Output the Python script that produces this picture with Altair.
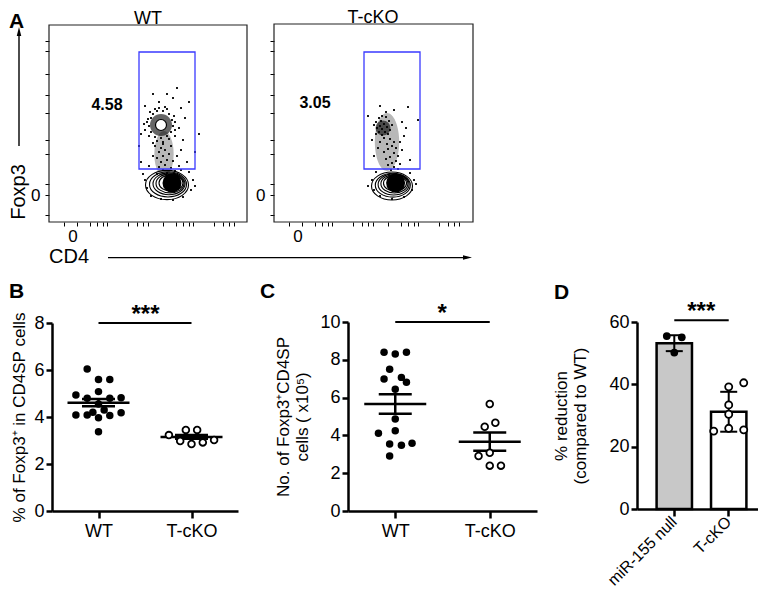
import math
import altair as alt
import pandas as pd

FONT = "Liberation Sans"
W, H = 750, 582          # chart area = window minus the 8 px page margin


def pg(v):
    """page pixel -> chart pixel (the page has an 8 px margin)"""
    return v - 8


# ============================ DATA ============================
# ---- Panel A : flow cytometry plots (display units of the biexponential axes)
A_TITLES = ["WT", "T-cKO"]
A_PCT = ["4.58", "3.05"]
A_PCT_X = [29.0, 20.5]
A_PCT_Y = [58.5, 59.5]
A_TITLE_X = [49.5, 49.5]
A_TITLE_Y = [101.5, 102.0]
GATE_X = [45.0, 73.0]
GATE_Y = [26.5, 85.0]
ZERO_X, ZERO_Y = 12.0, 13.5
ZERO_LABEL_Y = -7.5
DEC_X = [29.0, 50.5, 72.0, 93.5]
DEC_Y = [20.0, 43.5, 67.0, 90.5]

WT_DOTS = [
    (50, 48), (51, 52), (52, 54), (54, 55.5), (57, 55.5), (60, 54), (61.5, 51), (62, 48), (61, 45), (59, 43),
    (56, 42), (53, 42.5), (51, 45), (49, 50), (50.5, 55), (55, 57), (59, 56.5), (62.5, 53), (63, 46), (60, 41.5),
    (54, 40.5), (50, 43), (48, 46), (49.5, 51.5), (53, 56.5), (58, 57.5), (63, 50), (57, 40), (52, 39.5), (47.5, 49),
    (53, 38), (56, 37), (58, 36), (55, 35), (60, 34), (57, 33), (54, 32), (59, 31), (62, 30.5), (56, 30),
    (58, 28.5), (55, 27.5), (61, 27), (57, 26), (63, 25.5), (59, 24.5), (54, 24), (60, 23.5), (65, 28), (52, 33),
    (64, 33), (57, 39), (61, 38), (66, 36), (67, 41), (63, 43), (65, 47), (68, 52), (46, 44), (45, 38),
    (70, 60), (62, 62), (55, 60), (48, 58), (66, 57), (59, 64), (73, 35), (69, 30), (50, 28), (46, 30),
    (75, 44), (64, 67), (52, 64),
    (48, 21), (49, 17), (51, 13), (56, 11.5), (62, 11), (67, 12.5), (71, 16), (72, 21), (70, 25), (47, 24),
    (73, 18), (66, 26),
]
KO_DOTS = [
    (51, 50), (52.5, 52), (54, 53), (56, 52.5), (57.5, 50.5), (55, 49), (53, 48), (51.5, 47), (54, 46.5), (56.5, 47.5),
    (58, 46), (55.5, 45), (52.5, 45), (50, 48.5), (57, 44), (54, 43.5), (51, 44), (59, 48.5), (53.5, 50.5), (56, 55),
    (55, 42), (58, 41.5), (60, 40), (56.5, 39), (53, 40), (59, 38), (61, 37), (57, 36.5), (55, 35), (60, 34.5),
    (62, 33), (58, 32.5), (56, 31.5), (61, 30.5), (59, 29.5), (63, 29), (57, 28.5), (60, 27.5), (62, 26.5), (58.5, 26),
    (64, 36), (52, 37), (63, 40), (65, 43), (49, 41),
    (67, 57.5), (72, 51), (47, 53), (64, 50), (68, 31), (66, 47), (50, 33), (53, 58), (60, 56),
    (49, 21), (50, 16), (53, 13), (59, 11.5), (65, 12.5), (69, 16), (70, 21), (68, 24.5), (51, 25), (71, 19), (47, 18),
]
WT_RING_X = [59.0, 59.5, 60.0, 60.5, 61.0]
WT_RING_Y = [18.5, 18.8, 19.1, 19.3, 19.5]
KO_RING_X = [59.0, 59.4, 59.8, 60.2, 60.5]
KO_RING_Y = [18.0, 18.4, 18.8, 19.1, 19.4]
WT_CORE = (61.5, 19.5)
KO_CORE = (60.8, 19.5)
WT_HOLE = (56.0, 48.5)
WT_DENSE_RING = [(56.0, 48.5)]
WT_DENSE_COL = [(57.5, 34.0)]
KO_DENSE_TOP = [(54.5, 47.0)]
KO_DENSE_COL = [(56.5, 40.0)]

# ---- Panel B : % Foxp3+ in CD4SP
B_GROUPS = ["WT", "T-cKO"]
B_WT = [6.04, 5.60, 5.60, 4.94, 5.08, 4.80, 4.80, 4.82, 4.55, 4.09, 4.09, 4.20, 4.30, 3.97, 4.06, 4.18, 3.37]
B_WT_COL = [-1, 0, 1, -2, 0, -1, 1, 2, 0, -2, -1, -0.5, 0.5, 0, 1, 2, 0]
B_KO = [3.23, 3.45, 3.45, 2.98, 2.85, 2.92, 3.02]
B_KO_COL = [-2, -0.5, 0.5, -1, 0, 1, 2]
B_MEAN = [4.61, 3.15]
B_SEM = [0.155, 0.08]

# ---- Panel C : number of Foxp3+CD4SP cells (x10^5)
C_GROUPS = ["WT", "T-cKO"]
C_WT = [8.40, 8.31, 8.40, 7.50, 6.98, 7.07, 6.81, 6.44, 4.87, 4.11, 4.25, 3.54, 3.48, 3.58, 2.91]
C_WT_COL = [-1, 0, 1, -0.5, -1, 0.55, 1, 0, 0, -1.5, 0, -0.5, 0.55, 1.5, -0.5]
C_KO = [5.66, 4.46, 4.67, 2.91, 3.08, 2.40, 2.40]
C_KO_COL = [0, -0.45, 0.5, -1, 0, 0, 1]
C_MEAN = [5.66, 3.67]
C_SEM = [0.52, 0.48]

# ---- Panel D : % reduction compared to WT
D_GROUPS = ["miR-155 null", "T-cKO"]
D_NULL = [55.5, 55.1, 50.2]
D_NULL_COL = [-0.5, 0.5, 0]
D_KO = [39.2, 40.5, 33.4, 30.4, 25.0, 25.9, 25.4]
D_KO_COL = [0, 1, 0, 0, -1, 0, 1]
D_MEAN = [53.2, 31.2]
D_SD = [2.55, 6.4]

# ============================ STYLE ============================
ELL = "M-1,0A1,0.68,0,1,1,1,0A1,0.68,0,1,1,-1,0Z"
VELL = "M0,-1A0.42,1,0,1,1,0,1A0.42,1,0,1,1,0,-1Z"
UP = "M0,-1L0.45,0.8L-0.45,0.8Z"
RIGHT = "M1,0L-0.8,0.45L-0.8,-0.45Z"
WT_RING_W = [43, 37, 32, 28, 24]
KO_RING_W = [41, 35, 31, 27, 23]


def bi_ticks(decades, zero, hi):
    span = decades[1] - decades[0]
    vals = {round(zero, 2)}
    for d in [decades[0] - span] + decades:
        for k in range(1, 10):
            v = round(d + span * math.log10(k), 2)
            if 1.0 < v < hi:
                vals.add(v)
    return sorted(vals)


TICKS_X = bi_ticks(DEC_X, ZERO_X, 98.5)
TICKS_Y = bi_ticks(DEC_Y, ZERO_Y, 98.0)


def pts_df(pts):
    return pd.DataFrame({"x": [p[0] for p in pts], "y": [p[1] for p in pts]})


def flow_panel(i, dots, ring_x, ring_y, ring_w, core, hole, dense_circle, dense_circle_w,
               dense_col, dense_col_h, xdom, ydom, xr, yr, arrows):
    xs = alt.Scale(domain=xdom, range=xr, nice=False, zero=False)
    ys = alt.Scale(domain=ydom, range=yr, nice=False, zero=False)
    axx = alt.Axis(orient="bottom", offset=yr[0] - H, values=TICKS_X, labels=False,
                   tickSize=4, tickWidth=1, tickColor="black", domain=False, grid=False,
                   title=None)
    axy = alt.Axis(orient="left", offset=-xr[0], values=TICKS_Y,
                   labelExpr=f"abs(datum.value - {ZERO_Y}) < 0.01 ? '0' : ''",
                   tickSize=4, tickWidth=1, tickColor="black", domain=False, grid=False,
                   labelFontSize=17, labelPadding=5, labelOverlap=False, labelFlush=False,
                   title=None)

    def X(f, ax=None):
        if ax is None:
            return alt.X(f"{f}:Q", scale=xs)
        return alt.X(f"{f}:Q", scale=xs, axis=ax)

    def Y(f, ax=None):
        if ax is None:
            return alt.Y(f"{f}:Q", scale=ys)
        return alt.Y(f"{f}:Q", scale=ys, axis=ax)

    L = []
    frame = pd.DataFrame({"x": [xdom[0]], "x2": [xdom[1]], "y": [ydom[0]], "y2": [ydom[1]]})
    L.append(alt.Chart(frame).mark_rect(fillOpacity=0, stroke="#222222", strokeWidth=1.2).encode(
        x=X("x", axx), x2=alt.X2("x2"), y=Y("y", axy), y2=alt.Y2("y2")))
    # "0" label of the CD4 axis
    zl = pd.DataFrame({"x": [ZERO_X], "y": [ZERO_LABEL_Y], "t": ["0"]})
    L.append(alt.Chart(zl).mark_text(font=FONT, fontSize=17, color="black").encode(
        x=X("x"), y=Y("y"), text="t:N"))
    # density underlay of the scattered events
    if dense_circle:
        L.append(alt.Chart(pts_df(dense_circle)).mark_point(
            shape="circle", filled=True, color="black", opacity=0.6,
            size=dense_circle_w * dense_circle_w).encode(x=X("x"), y=Y("y")))
    L.append(alt.Chart(pts_df(dense_col)).mark_point(
        shape=VELL, filled=True, color="black", opacity=0.28,
        size=dense_col_h * dense_col_h).encode(x=X("x"), y=Y("y")))
    L.append(alt.Chart(pts_df(dots)).mark_square(size=4, color="black", opacity=0.9).encode(
        x=X("x"), y=Y("y")))
    if hole:
        L.append(alt.Chart(pts_df([hole])).mark_point(
            shape="circle", filled=True, fill="white", stroke="black", strokeWidth=1.2,
            opacity=1, size=11 * 11).encode(x=X("x"), y=Y("y")))
    # contour rings of the Foxp3- population
    rings = pd.DataFrame({"x": ring_x, "y": ring_y, "s": [w * w for w in ring_w]})
    L.append(alt.Chart(rings).mark_point(
        shape=ELL, filled=False, color="black", strokeWidth=1.1, opacity=1).encode(
        x=X("x"), y=Y("y"), size=alt.Size("s:Q", scale=None)))
    L.append(alt.Chart(pts_df([core])).mark_point(
        shape="circle", filled=True, color="black", opacity=1, size=19 * 19).encode(
        x=X("x"), y=Y("y")))
    # gate
    gate = pd.DataFrame({"x": [GATE_X[0]], "x2": [GATE_X[1]], "y": [GATE_Y[0]], "y2": [GATE_Y[1]]})
    L.append(alt.Chart(gate).mark_rect(fillOpacity=0, stroke="#3a3aff", strokeWidth=1.3).encode(
        x=X("x"), x2=alt.X2("x2"), y=Y("y"), y2=alt.Y2("y2")))
    # gate percentage and panel title
    lab = pd.DataFrame({"x": [A_PCT_X[i]], "y": [A_PCT_Y[i]], "t": [A_PCT[i]]})
    L.append(alt.Chart(lab).mark_text(font=FONT, fontSize=16, fontWeight="bold", color="black").encode(
        x=X("x"), y=Y("y"), text="t:N"))
    tt = pd.DataFrame({"x": [A_TITLE_X[i]], "y": [A_TITLE_Y[i]], "t": [A_TITLES[i]]})
    L.append(alt.Chart(tt).mark_text(font=FONT, fontSize=18, color="black").encode(
        x=X("x"), y=Y("y"), text="t:N"))
    if arrows:
        ar = pd.DataFrame({"x": [-15.0, 29.5], "x2": [-15.0, 209.0],
                           "y": [38.0, -17.8], "y2": [95.0, -17.8]})
        L.append(alt.Chart(ar).mark_rule(color="black", strokeWidth=1.4).encode(
            x=X("x"), x2=alt.X2("x2"), y=Y("y"), y2=alt.Y2("y2")))
        L.append(alt.Chart(pts_df([(-15.0, 95.0)])).mark_point(
            shape=UP, filled=True, color="black", opacity=1, size=100).encode(x=X("x"), y=Y("y")))
        L.append(alt.Chart(pts_df([(209.0, -17.8)])).mark_point(
            shape=RIGHT, filled=True, color="black", opacity=1, size=100).encode(x=X("x"), y=Y("y")))
        at = pd.DataFrame({"x": [-15.0, 10.0], "y": [15.0, -17.5], "t": ["Foxp3", "CD4"]})
        L.append(alt.Chart(at.iloc[[0]]).mark_text(font=FONT, fontSize=20, color="black", angle=270).encode(
            x=X("x"), y=Y("y"), text="t:N"))
        L.append(alt.Chart(at.iloc[[1]]).mark_text(font=FONT, fontSize=20, color="black").encode(
            x=X("x"), y=Y("y"), text="t:N"))
    return alt.layer(*L)


def y_axis(xpix, values, title, title_pad):
    return alt.Axis(orient="left", offset=-xpix, values=values, format="d", tickSize=6, tickWidth=2.5,
                    domainWidth=2.5, labelFontSize=18, labelPadding=2, grid=False,
                    title=title, titleFontSize=17, titleFontWeight="normal",
                    titlePadding=title_pad, labelFlush=False)


def x_axis(ypix, angle=0, size=18, pad=4):
    kw = {}
    if angle:
        kw = dict(labelAlign="right", labelBaseline="middle")
    return alt.Axis(orient="bottom", offset=ypix - H, tickSize=7, tickWidth=2.5,
                    domainWidth=2.5, labelFontSize=size, labelPadding=pad, labelAngle=angle,
                    title=None, grid=False, **kw)


def scatter_panel(groups, wt, wt_col, ko, ko_col, means, sems, ymax, yticks, xr, yr, pad,
                  col_px, title, title_pad, sig_y, sig_text, sig_dx, dot_size):
    xs = alt.Scale(type="point", domain=groups, range=xr, padding=pad)
    ys = alt.Scale(domain=[0, ymax], range=yr, nice=False, zero=True)
    os_ = alt.Scale(domain=[-1, 1], range=[-col_px, col_px], nice=False, zero=False)
    st = pd.DataFrame({"g": groups, "m": means,
                       "lo": [m - s for m, s in zip(means, sems)],
                       "hi": [m + s for m, s in zip(means, sems)]})
    dfw = pd.DataFrame({"g": groups[0], "v": wt, "c": wt_col})
    dfk = pd.DataFrame({"g": groups[1], "v": ko, "c": ko_col})
    sig = pd.DataFrame({"a": [groups[0]], "b": [groups[1]], "y": [sig_y], "t": [sig_text]})

    def X(ax=None, f="g"):
        if ax is None:
            return alt.X(f"{f}:N", scale=xs)
        return alt.X(f"{f}:N", scale=xs, axis=ax)

    def Y(f, ax=None):
        if ax is None:
            return alt.Y(f"{f}:Q", scale=ys)
        return alt.Y(f"{f}:Q", scale=ys, axis=ax)

    L = [
        alt.Chart(st).mark_tick(orient="horizontal", size=62, thickness=2.5, color="black", opacity=1).encode(
            x=X(x_axis(yr[0])), y=Y("m", y_axis(xr[0], yticks, title, title_pad))),
        alt.Chart(st).mark_rule(color="black", strokeWidth=2.5).encode(x=X(), y=Y("lo"), y2=alt.Y2("hi")),
        alt.Chart(st).mark_tick(orient="horizontal", size=33, thickness=2.5, color="black", opacity=1).encode(
            x=X(), y=Y("lo")),
        alt.Chart(st).mark_tick(orient="horizontal", size=33, thickness=2.5, color="black", opacity=1).encode(
            x=X(), y=Y("hi")),
        alt.Chart(dfw).mark_point(shape="circle", filled=True, color="black", opacity=1, size=dot_size).encode(
            x=X(), y=Y("v"), xOffset=alt.XOffset("c:Q", scale=os_)),
        alt.Chart(dfk).mark_point(shape="circle", filled=True, fill="white", stroke="black", strokeWidth=1.8,
                                  opacity=1, size=dot_size * 0.8).encode(
            x=X(), y=Y("v"), xOffset=alt.XOffset("c:Q", scale=os_)),
        alt.Chart(sig).mark_rule(color="black", strokeWidth=2).encode(
            x=X(f="a"), x2=alt.X2("b"), y=Y("y")),
        alt.Chart(sig).mark_text(font=FONT, fontSize=24, fontWeight="bold", color="black",
                                 baseline="alphabetic", dx=sig_dx, dy=-1).encode(
            x=X(f="a"), y=Y("y"), text="t:N"),
    ]
    return alt.layer(*L)


# ---------------- Panel D ----------------
def bar_panel():
    xr = [pg(637), pg(766)]
    yr = [pg(509), pg(322)]
    p_in, p_out = 0.35, 0.36
    step = (xr[1] - xr[0]) / (len(D_GROUPS) - p_in + 2 * p_out)
    half_band = step * (1 - p_in) / 2
    xs = alt.Scale(type="band", domain=D_GROUPS, range=xr, paddingInner=p_in, paddingOuter=p_out)
    ys = alt.Scale(domain=[0, 60], range=yr, nice=False, zero=True)
    os_ = alt.Scale(domain=[-1, 1], range=[half_band - 15, half_band + 15], nice=False, zero=False)
    st = pd.DataFrame({"g": D_GROUPS, "m": D_MEAN,
                       "lo": [m - s for m, s in zip(D_MEAN, D_SD)],
                       "hi": [m + s for m, s in zip(D_MEAN, D_SD)]})
    dfn = pd.DataFrame({"g": D_GROUPS[0], "v": D_NULL, "c": D_NULL_COL})
    dfk = pd.DataFrame({"g": D_GROUPS[1], "v": D_KO, "c": D_KO_COL})
    sig = pd.DataFrame({"a": [D_GROUPS[0]], "b": [D_GROUPS[1]], "y": [60.6], "t": ["***"]})

    def X(ax=None, f="g"):
        if ax is None:
            return alt.X(f"{f}:N", scale=xs)
        return alt.X(f"{f}:N", scale=xs, axis=ax)

    def Y(f, ax=None):
        if ax is None:
            return alt.Y(f"{f}:Q", scale=ys)
        return alt.Y(f"{f}:Q", scale=ys, axis=ax)

    L = [
        alt.Chart(st).mark_bar(stroke="black", strokeWidth=2.5, opacity=1).encode(
            x=X(x_axis(yr[0], angle=-45, size=16, pad=3)),
            y=Y("m", y_axis(xr[0], [0, 20, 40, 60], ["% reduction", "(compared to WT)"], 19)),
            color=alt.Color("g:N", scale=alt.Scale(domain=D_GROUPS, range=["#c8c8c8", "#ffffff"]),
                            legend=None)),
        alt.Chart(st).mark_rule(color="black", strokeWidth=2).encode(x=X(), y=Y("lo"), y2=alt.Y2("hi")),
        alt.Chart(st).mark_tick(orient="horizontal", size=17, thickness=2, color="black", opacity=1).encode(
            x=X(), y=Y("lo")),
        alt.Chart(st).mark_tick(orient="horizontal", size=17, thickness=2, color="black", opacity=1).encode(
            x=X(), y=Y("hi")),
        alt.Chart(dfn).mark_point(shape="circle", filled=True, color="black", opacity=1, size=60).encode(
            x=X(), y=Y("v"), xOffset=alt.XOffset("c:Q", scale=os_)),
        alt.Chart(dfk).mark_point(shape="circle", filled=True, fill="white", stroke="black", strokeWidth=1.8,
                                  opacity=1, size=50).encode(
            x=X(), y=Y("v"), xOffset=alt.XOffset("c:Q", scale=os_)),
        alt.Chart(sig).mark_rule(color="black", strokeWidth=2).encode(x=X(f="a"), x2=alt.X2("b"), y=Y("y")),
        alt.Chart(sig).mark_text(font=FONT, fontSize=24, fontWeight="bold", color="black",
                                 baseline="alphabetic", dx=27, dy=-1).encode(
            x=X(f="a"), y=Y("y"), text="t:N"),
    ]
    return alt.layer(*L).resolve_scale(xOffset="independent")


panel_a_wt = flow_panel(0, WT_DOTS, WT_RING_X, WT_RING_Y, WT_RING_W, WT_CORE, WT_HOLE,
                        WT_DENSE_RING, 22, WT_DENSE_COL, 46, [0, 99], [0, 98.5],
                        [pg(49), pg(247)], [pg(222), pg(25)], True)
panel_a_ko = flow_panel(1, KO_DOTS, KO_RING_X, KO_RING_Y, KO_RING_W, KO_CORE, None,
                        KO_DENSE_TOP, 15, KO_DENSE_COL, 58, [0, 99.5], [0, 99],
                        [pg(274), pg(473)], [pg(222), pg(24)], False)
panel_b = scatter_panel(B_GROUPS, B_WT, B_WT_COL, B_KO, B_KO_COL, B_MEAN, B_SEM, 8, [0, 2, 4, 6, 8],
                        [pg(52), pg(238)], [pg(511), pg(323)], 0.5, 11.3,
                        "% of Foxp3⁺ in CD4SP cells", 5, 8.0, "***", 47, 56)
panel_c = scatter_panel(C_GROUPS, C_WT, C_WT_COL, C_KO, C_KO_COL, C_MEAN, C_SEM, 10, [0, 2, 4, 6, 8, 10],
                        [pg(348), pg(537)], [pg(511), pg(322)], 0.5, 11.2,
                        ["No. of Foxp3⁺CD4SP", "cells ( x10⁵)"], 8, 10.0, "*", 47, 56)
panel_d = bar_panel()

LETTERS = ["A", "B", "C", "D"]
LETTER_POS = [(pg(9), pg(11)), (pg(9), pg(281)), (pg(260), pg(281)), (pg(554), pg(282))]
letter_layers = [
    alt.Chart(pd.DataFrame({"t": [t]})).mark_text(
        font=FONT, fontSize=21, fontWeight="bold", color="black", align="left", baseline="top").encode(
        x=alt.value(p[0]), y=alt.value(p[1]), text="t:N")
    for t, p in zip(LETTERS, LETTER_POS)
]

chart = alt.layer(panel_a_wt, panel_a_ko, panel_b, panel_c, panel_d, *letter_layers).resolve_scale(
    x="independent", y="independent", xOffset="independent"
).properties(
    width=W, height=H, padding=0, autosize=alt.AutoSizeParams(type="none")
).configure_axis(
    labelFont=FONT, titleFont=FONT, labelColor="black", titleColor="black",
    domainColor="black", tickColor="black"
).configure_view(stroke="transparent")

chart.save("out.html", embed_options={"renderer": "svg", "actions": False})
